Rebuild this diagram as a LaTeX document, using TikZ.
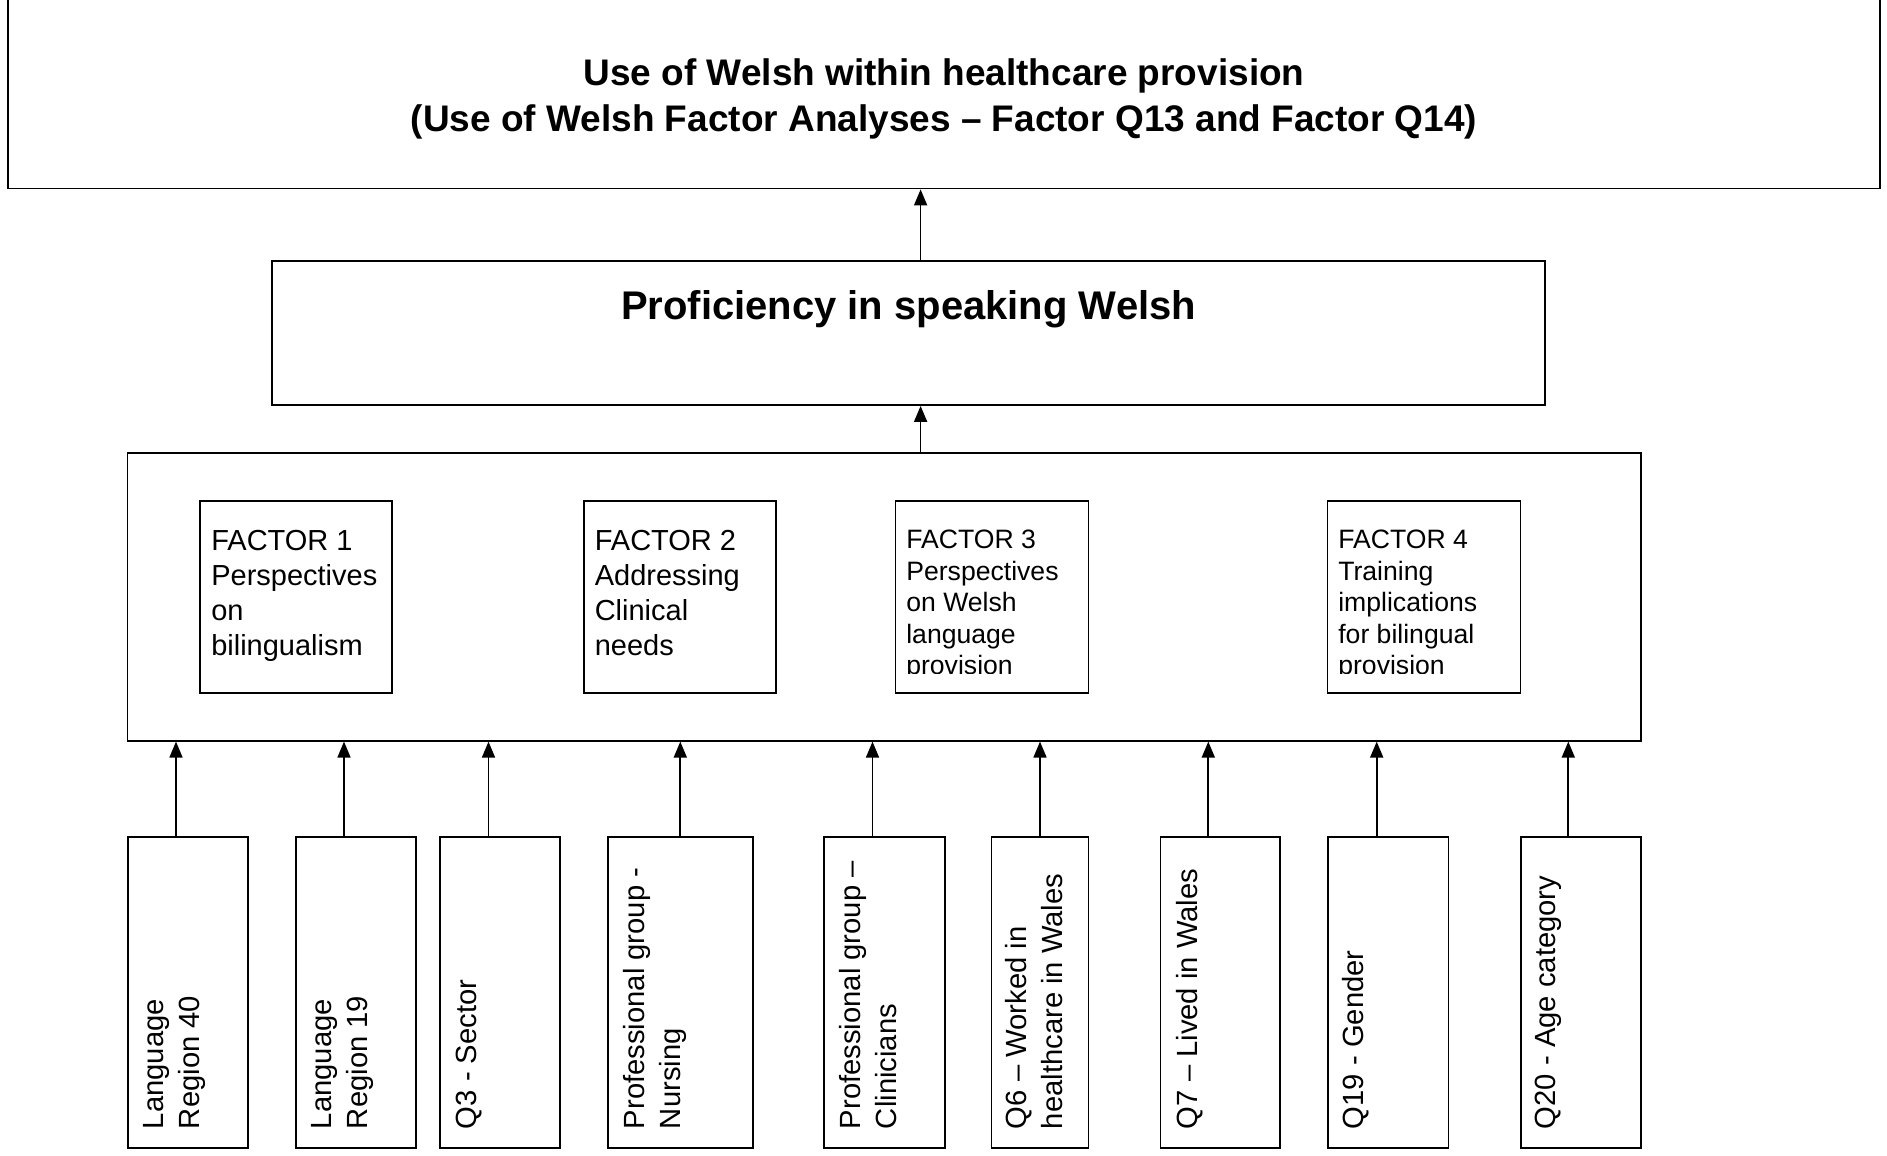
\documentclass[tikz,border=0pt]{standalone}
\usepackage{fontspec}
\setmainfont{Liberation Sans}
\usetikzlibrary{arrows.meta}
\begin{document}
\begin{tikzpicture}[x=1pt,y=-1pt,
  box/.style={draw, line width=1.8pt, inner sep=0pt},
  arr/.style={line width=1.7pt, -{Triangle[length=16pt,width=13pt]}},
  ttext/.style={inner sep=0pt, anchor=base, font=\fontsize{37}{43}\selectfont\bfseries},
  ptext/.style={inner sep=0pt, anchor=base, font=\fontsize{40}{45}\selectfont\bfseries},
  ftext/.style={inner sep=0pt, anchor=north west, align=left, font=\fontsize{29}{35}\selectfont},
  ftextsm/.style={inner sep=0pt, anchor=north west, align=left, font=\fontsize{26.6}{31.5}\selectfont},
  vtext/.style={inner sep=0pt, anchor=north west, rotate=90, align=left, font=\fontsize{29.2}{35.5}\selectfont},
]
\useasboundingbox (0,0) rectangle (1887,1156);

% main boxes
\node[box, minimum width=1872pt, minimum height=191.5pt] (top) at (944,92.75) {};
\node[ttext] (title1) at (944,85.5) {Use of Welsh within healthcare provision};
\node[ttext] (title2) at (944,131) {(Use of Welsh Factor Analyses – Factor Q13 and Factor Q14)};

\node[box, minimum width=1273pt, minimum height=144.3pt] (prof) at (908.5,332.85) {};
\node[ptext] (proftext) at (908.5,319.5) {Proficiency in speaking Welsh};

\node[box, minimum width=1513.5pt, minimum height=288pt] (fac) at (884.25,596.7) {};

% factor boxes
\node[box, minimum width=192pt, minimum height=192pt] (f1) at (296,596.7) {};
\node[box, minimum width=192pt, minimum height=192pt] (f2) at (680,596.7) {};
\node[box, minimum width=193pt, minimum height=192pt] (f3) at (992,596.7) {};
\node[box, minimum width=193pt, minimum height=192pt] (f4) at (1424,596.7) {};

\node[ftext] (f1t) at ([xshift=12pt,yshift=-29.8pt]f1.north west) {FACTOR 1\\Perspectives\\on\\bilingualism};
\node[ftext] (f2t) at ([xshift=11.5pt,yshift=-29.8pt]f2.north west) {FACTOR 2\\Addressing\\Clinical\\needs};
\begin{scope}
  \clip ([yshift=20pt]f3.south west) rectangle (f3.north east);
  \node[ftextsm] (f3t) at ([xshift=11.5pt,yshift=-30pt]f3.north west) {FACTOR 3\\Perspectives\\on Welsh\\language\\provision};
\end{scope}
\begin{scope}
  \clip ([yshift=20pt]f4.south west) rectangle (f4.north east);
  \node[ftextsm] (f4t) at ([xshift=11.5pt,yshift=-30pt]f4.north west) {FACTOR 4\\Training\\implications\\for bilingual\\provision};
\end{scope}

% bottom boxes
\node[box, minimum width=120pt, minimum height=311.6pt] (b1) at (188,992.5) {};
\node[box, minimum width=120pt, minimum height=311.6pt] (b2) at (356,992.5) {};
\node[box, minimum width=120pt, minimum height=311.6pt] (b3) at (500,992.5) {};
\node[box, minimum width=144.6pt, minimum height=311.6pt] (b4) at (680.3,992.5) {};
\node[box, minimum width=121pt, minimum height=311.6pt] (b5) at (884.5,992.5) {};
\node[box, minimum width=97pt, minimum height=311.6pt] (b6) at (1040,992.5) {};
\node[box, minimum width=119.5pt, minimum height=311.6pt] (b7) at (1220.3,992.5) {};
\node[box, minimum width=120.5pt, minimum height=311.6pt] (b8) at (1388.3,992.5) {};
\node[box, minimum width=120pt, minimum height=311.6pt] (b9) at (1580.7,992.5) {};

\node[vtext] (b1t) at ([xshift=16.5pt,yshift=20pt]b1.south west) {Language\\Region 40};
\node[vtext] (b2t) at ([xshift=16.5pt,yshift=20pt]b2.south west) {Language\\Region 19};
\node[vtext] (b3t) at ([xshift=16.5pt,yshift=20pt]b3.south west) {Q3 - Sector};
\node[vtext] (b4t) at ([xshift=16.5pt,yshift=20pt]b4.south west) {Professional group -\\Nursing};
\node[vtext] (b5t) at ([xshift=16.5pt,yshift=20pt]b5.south west) {Professional group –\\Clinicians};
\node[vtext] (b6t) at ([xshift=15pt,yshift=20pt]b6.south west) {Q6 – Worked in\\healthcare in Wales};
\node[vtext] (b7t) at ([xshift=16pt,yshift=20pt]b7.south west) {Q7 – Lived in Wales};
\node[vtext] (b8t) at ([xshift=15pt,yshift=20pt]b8.south west) {Q19 - Gender};
\node[vtext] (b9t) at ([xshift=15pt,yshift=20pt]b9.south west) {Q20 - Age category};

% arrows
\coordinate (cx) at (920.6,0);
\draw[arr] (prof.north -| cx) -- (top.south -| cx);
\draw[arr] (fac.north -| cx) -- (prof.south -| cx);

\coordinate (a1) at ([xshift=-12pt]b1.north);
\coordinate (a2) at ([xshift=-12pt]b2.north);
\coordinate (a3) at ([xshift=-11.5pt]b3.north);
\coordinate (a4) at (b4.north);
\coordinate (a5) at ([xshift=-12pt]b5.north);
\coordinate (a6) at (b6.north);
\coordinate (a7) at ([xshift=-12pt]b7.north);
\coordinate (a8) at ([xshift=-11.6pt]b8.north);
\coordinate (a9) at ([xshift=-12.4pt]b9.north);
\foreach \i in {1,...,9} {
  \draw[arr] (a\i) -- (a\i |- fac.south);
}
\end{tikzpicture}
\end{document}
